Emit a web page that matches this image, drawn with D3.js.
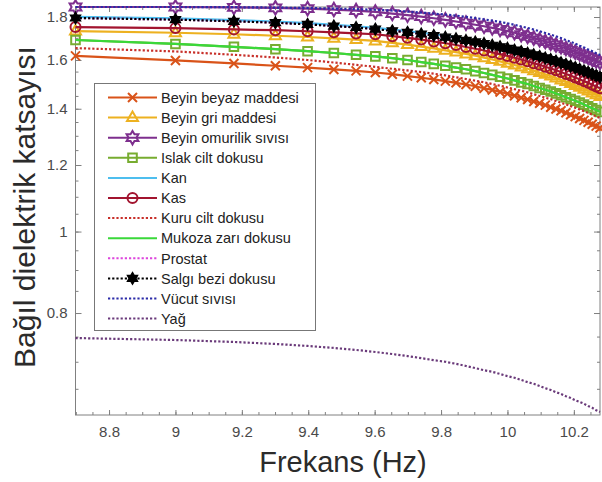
<!DOCTYPE html>
<html>
<head>
<meta charset="utf-8">
<script src="https://cdn.jsdelivr.net/npm/d3@7"></script>
<style>
  body { margin: 0; background: #fff; }
  text { font-family: "Liberation Sans", Arial, Helvetica, sans-serif; }
</style>
</head>
<body>
<svg class="chart" width="602" height="482"></svg>
<script>
// frequency samples (GHz), plotted as log10(Hz)
var frekansGHz = [0.5,1,1.5,2,2.5,3,3.5,4,4.5,5,5.5,6,6.5,7,7.5,8,8.5,9,9.5,10,
  10.5,11,11.5,12,12.5,13,13.5,14,14.5,15,15.5,16,16.5,17,17.5,18,18.5,19];

var beyinBeyaz = [1.618,1.598,1.585,1.575,1.567,1.559,1.553,1.546,1.539,1.531,1.524,1.517,1.510,1.503,1.496,1.489,1.481,1.474,1.466,
  1.459,1.451,1.443,1.436,1.428,1.421,1.414,1.406,1.399,1.392,1.385,1.377,1.370,1.363,1.356,1.349,1.342,1.335,1.328];
var beyinGri = [1.732,1.724,1.717,1.710,1.704,1.698,1.692,1.686,1.677,1.669,1.660,1.652,1.643,1.635,1.627,1.619,1.610,1.602,1.594,
  1.586,1.578,1.570,1.562,1.554,1.546,1.539,1.531,1.523,1.515,1.508,1.500,1.492,1.485,1.477,1.470,1.462,1.455,1.448];
var omurilik = [1.850,1.850,1.848,1.846,1.842,1.837,1.832,1.825,1.817,1.809,1.802,1.794,1.786,1.778,1.770,1.762,1.755,1.747,1.740,
  1.732,1.724,1.715,1.707,1.699,1.691,1.683,1.675,1.667,1.659,1.651,1.643,1.635,1.627,1.619,1.612,1.604,1.596,1.589];
var islakCilt = [1.690,1.672,1.659,1.648,1.639,1.631,1.623,1.616,1.608,1.600,1.591,1.583,1.575,1.567,1.560,1.552,1.544,1.536,1.528,
  1.521,1.513,1.505,1.498,1.490,1.482,1.475,1.468,1.460,1.453,1.445,1.438,1.431,1.424,1.416,1.409,1.402,1.395,1.388];
var kan = [1.801,1.793,1.785,1.778,1.770,1.762,1.755,1.747,1.739,1.732,1.724,1.717,1.709,1.702,1.694,1.687,1.680,1.672,1.665,
  1.658,1.650,1.643,1.636,1.629,1.622,1.615,1.608,1.601,1.594,1.587,1.580,1.573,1.566,1.559,1.553,1.546,1.539,1.532];
var kas = [1.751,1.746,1.740,1.736,1.731,1.726,1.721,1.717,1.708,1.700,1.692,1.683,1.675,1.667,1.658,1.650,1.642,1.634,1.626,
  1.618,1.610,1.602,1.594,1.586,1.579,1.571,1.563,1.556,1.548,1.540,1.533,1.525,1.518,1.510,1.503,1.495,1.488,1.481];
var kuruCilt = [1.653,1.638,1.623,1.611,1.600,1.589,1.579,1.570,1.562,1.555,1.548,1.541,1.534,1.526,1.519,1.512,1.505,1.498,1.491,
  1.484,1.477,1.471,1.464,1.457,1.450,1.443,1.437,1.430,1.423,1.417,1.410,1.404,1.397,1.391,1.384,1.378,1.371,1.365];
var mukozaZari = [1.690,1.672,1.659,1.648,1.639,1.631,1.623,1.616,1.608,1.600,1.591,1.583,1.575,1.567,1.560,1.552,1.544,1.536,1.528,
  1.521,1.513,1.505,1.498,1.490,1.482,1.475,1.468,1.460,1.453,1.445,1.438,1.431,1.424,1.416,1.409,1.402,1.395,1.388];
var prostat = [1.795,1.787,1.779,1.772,1.764,1.756,1.749,1.741,1.733,1.726,1.718,1.711,1.703,1.696,1.688,1.681,1.674,1.666,1.659,
  1.652,1.644,1.637,1.630,1.623,1.616,1.609,1.602,1.595,1.588,1.581,1.574,1.567,1.560,1.553,1.547,1.540,1.533,1.526];
var salgiBezi = [1.795,1.787,1.779,1.772,1.764,1.756,1.749,1.741,1.733,1.726,1.718,1.711,1.703,1.696,1.688,1.681,1.674,1.666,1.659,
  1.652,1.644,1.637,1.630,1.623,1.616,1.609,1.602,1.595,1.588,1.581,1.574,1.567,1.560,1.553,1.547,1.540,1.533,1.526];
var vucutSivisi = [1.850,1.850,1.849,1.847,1.845,1.842,1.839,1.836,1.832,1.827,1.822,1.817,1.812,1.807,1.801,1.795,1.788,1.782,1.776,
  1.769,1.762,1.754,1.747,1.739,1.731,1.723,1.715,1.707,1.699,1.690,1.682,1.673,1.664,1.656,1.647,1.639,1.630,1.622];
var yag = [0.747,0.743,0.739,0.735,0.731,0.727,0.723,0.719,0.715,0.711,0.707,0.703,0.700,0.696,0.692,0.688,0.684,0.681,0.677,
  0.673,0.670,0.666,0.662,0.659,0.655,0.651,0.648,0.644,0.641,0.637,0.634,0.630,0.627,0.624,0.620,0.617,0.613,0.610];

var seriesNames = ["Beyin beyaz maddesi", "Beyin gri maddesi", "Beyin omurilik sıvısı", "Islak cilt dokusu",
  "Kan", "Kas", "Kuru cilt dokusu", "Mukoza zarı dokusu", "Prostat", "Salgı bezi dokusu", "Vücut sıvısı", "Yağ"];
var seriesValues = [beyinBeyaz, beyinGri, omurilik, islakCilt, kan, kas, kuruCilt, mukozaZari, prostat, salgiBezi, vucutSivisi, yag];

var xTickValues = [8.8, 9, 9.2, 9.4, 9.6, 9.8, 10, 10.2];
var yTickValues = [0.8, 1, 1.2, 1.4, 1.6, 1.8];

// styles, one per series
var styles = [
  { color: "#D95319", dash: null, marker: "x" },
  { color: "#EDB120", dash: null, marker: "triangle" },
  { color: "#7E2F8E", dash: null, marker: "hexagram" },
  { color: "#77AC30", dash: null, marker: "square" },
  { color: "#4DBEEE", dash: null, marker: null },
  { color: "#A2142F", dash: null, marker: "circle" },
  { color: "#C8302A", dash: "2.2,2", marker: null },
  { color: "#3AD83A", dash: null, marker: null },
  { color: "#DD44DD", dash: "2.2,2", marker: null },
  { color: "#000000", dash: "2.2,2", marker: "hexfill" },
  { color: "#2B2BA8", dash: "2.2,2", marker: null },
  { color: "#6A3A7A", dash: "2.2,2", marker: null }
];

var svg = d3.select(".chart");
var plotL = 75.5, plotR = 600, plotT = 7, plotB = 415;

var x = d3.scaleLinear()
  .domain(d3.extent(frekansGHz, function (f) { return Math.log10(f * 1e9); }))
  .range([plotL, plotR]);
var y = d3.scaleLog().domain([0.605, 1.85]).range([plotB, plotT]);

var axisColor = "#808080";

// minor ticks
var xMinor = d3.range(174, 206).map(function (i) { return i * 0.05; });
var yMinor = d3.range(13, 38).map(function (i) { return i * 0.05; });

function styleAxis(g) {
  g.select(".domain").remove();
  g.selectAll("line").attr("stroke", axisColor);
  g.selectAll("text").attr("fill", "#4a4a4a").style("font-size", "15px");
}

svg.append("g").attr("transform", "translate(0," + plotB + ")")
  .call(d3.axisBottom(x).tickValues(xMinor).tickSizeInner(-3).tickSizeOuter(0).tickFormat(""))
  .call(styleAxis);
svg.append("g").attr("transform", "translate(0," + plotT + ")")
  .call(d3.axisTop(x).tickValues(xMinor).tickSizeInner(-3).tickSizeOuter(0).tickFormat(""))
  .call(styleAxis);
svg.append("g").attr("transform", "translate(" + plotL + ",0)")
  .call(d3.axisLeft(y).tickValues(yMinor).tickSizeInner(-3).tickSizeOuter(0).tickFormat(""))
  .call(styleAxis);
svg.append("g").attr("transform", "translate(" + plotR + ",0)")
  .call(d3.axisRight(y).tickValues(yMinor).tickSizeInner(-3).tickSizeOuter(0).tickFormat(""))
  .call(styleAxis);

// major ticks and labels
svg.append("g").attr("transform", "translate(0," + plotB + ")")
  .call(d3.axisBottom(x).tickValues(xTickValues).tickSizeInner(-5).tickSizeOuter(0).tickPadding(11)
    .tickFormat(function (d) { return String(d); }))
  .call(styleAxis);
svg.append("g").attr("transform", "translate(0," + plotT + ")")
  .call(d3.axisTop(x).tickValues(xTickValues).tickSizeInner(-5).tickSizeOuter(0).tickFormat(""))
  .call(styleAxis);
svg.append("g").attr("transform", "translate(" + plotL + ",0)")
  .call(d3.axisLeft(y).tickValues(yTickValues).tickSizeInner(-6).tickSizeOuter(0).tickPadding(8)
    .tickFormat(function (d) { return String(d); }))
  .call(styleAxis);
svg.append("g").attr("transform", "translate(" + plotR + ",0)")
  .call(d3.axisRight(y).tickValues(yTickValues).tickSizeInner(-6).tickSizeOuter(0).tickFormat(""))
  .call(styleAxis);

svg.append("rect")
  .attr("x", plotL).attr("y", plotT)
  .attr("width", plotR - plotL).attr("height", plotB - plotT)
  .attr("fill", "none").attr("stroke", axisColor).attr("stroke-width", 1);

// marker shapes
function hexagramPath(R) {
  var pts = d3.range(12).map(function (i) {
    var a = (-90 + 30 * i) * Math.PI / 180;
    var r = i % 2 === 0 ? R : R / Math.sqrt(3);
    return [r * Math.cos(a), r * Math.sin(a)];
  });
  return "M" + pts.join("L") + "Z";
}

function markerPath(kind) {
  if (kind === "x") return "M-4.5,-4.5L4.5,4.5M-4.5,4.5L4.5,-4.5";
  if (kind === "triangle") return "M0,-6L5.5,3.5L-5.5,3.5Z";
  if (kind === "square") return "M-4.3,-4.3H4.3V4.3H-4.3Z";
  if (kind === "circle") return d3.symbol(d3.symbolCircle, Math.PI * 5 * 5)();
  if (kind === "hexagram") return hexagramPath(6.8);
  if (kind === "hexfill") return hexagramPath(6);
  return null;
}

function drawMarker(sel, st) {
  sel.attr("d", markerPath(st.marker))
    .attr("fill", st.marker === "hexfill" ? st.color : "none")
    .attr("stroke", st.color)
    .attr("stroke-width", st.marker === "hexfill" ? 1.2 : 2);
}

var line = d3.line()
  .x(function (d) { return x(d.x); })
  .y(function (d) { return y(d.y); });

var series = seriesNames.map(function (name, i) {
  return {
    name: name,
    style: styles[i],
    points: seriesValues[i].map(function (v, j) {
      return { x: Math.log10(frekansGHz[j] * 1e9), y: v };
    })
  };
});

var groups = svg.selectAll(".serie")
  .data(series)
  .enter().append("g")
  .attr("class", "serie");

groups.each(function (s) {
  var g = d3.select(this);
  g.append("path")
    .attr("d", line(s.points))
    .attr("fill", "none")
    .attr("stroke", s.style.color)
    .attr("stroke-width", 2.2)
    .attr("stroke-dasharray", s.style.dash);
  if (s.style.marker) {
    g.selectAll(".mk")
      .data(s.points)
      .enter().append("path")
      .attr("class", "mk")
      .attr("transform", function (d) { return "translate(" + x(d.x) + "," + y(d.y) + ")"; })
      .call(drawMarker, s.style);
  }
});

// axis titles
svg.append("text")
  .attr("x", 343).attr("y", 472)
  .attr("text-anchor", "middle")
  .attr("fill", "#2b2b2b")
  .style("font-size", "29px")
  .text("Frekans (Hz)");

svg.append("text")
  .attr("transform", "translate(35,207) rotate(-90)")
  .attr("text-anchor", "middle")
  .attr("fill", "#2b2b2b")
  .style("font-size", "30px")
  .text("Bağıl dielektrik katsayısı");

// legend
var legend = svg.append("g").attr("class", "legend");
legend.append("rect")
  .attr("x", 94.5).attr("y", 83.5)
  .attr("width", 221).attr("height", 247)
  .attr("fill", "#fff").attr("stroke", "#777").attr("stroke-width", 1);

var rows = legend.selectAll(".row")
  .data(series)
  .enter().append("g")
  .attr("class", "row")
  .attr("transform", function (d, i) { return "translate(0," + (97.5 + i * 20.1) + ")"; });

rows.append("line")
  .attr("x1", 108).attr("x2", 157)
  .attr("stroke", function (d) { return d.style.color; })
  .attr("stroke-width", 2)
  .attr("stroke-dasharray", function (d) { return d.style.dash; });

rows.filter(function (d) { return d.style.marker; })
  .append("path")
  .attr("transform", "translate(132.5,0)")
  .each(function (d) { d3.select(this).call(drawMarker, d.style); });

rows.append("text")
  .attr("x", 161).attr("y", 0)
  .attr("dy", "0.36em")
  .attr("fill", "#222")
  .style("font-size", "14.5px")
  .text(function (d) { return d.name; });
</script>
</body>
</html>
